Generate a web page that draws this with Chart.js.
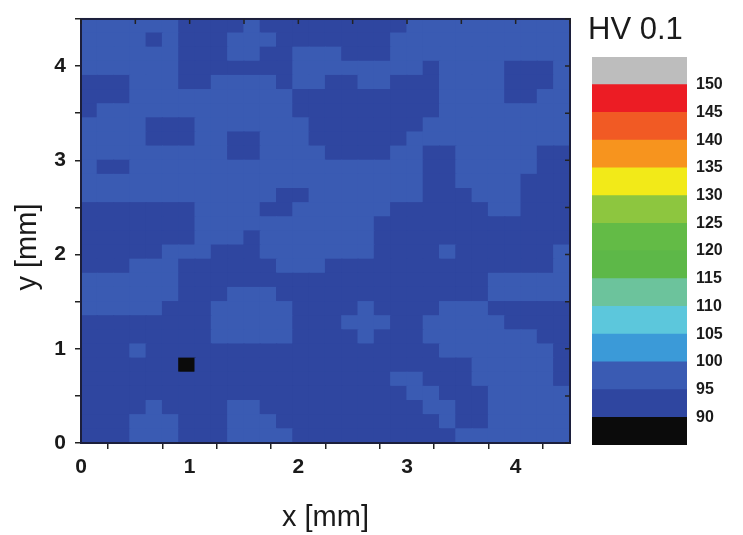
<!DOCTYPE html>
<html>
<head>
<meta charset="utf-8">
<script src="https://cdn.jsdelivr.net/npm/chart.js@4.4.0/dist/chart.umd.min.js"></script>
<style>
  html, body { margin: 0; padding: 0; background: #fff; }
  #wrap { position: relative; width: 743px; height: 535px; overflow: hidden; }
  #map { position: absolute; left: 0; top: 0; }
  #bar { position: absolute; left: 560px; top: 0; }
  #hvTitle { position: absolute; left: 588px; top: 13px; font: 31px/31px "Liberation Sans", Arial, sans-serif; color: #1a1a1a; white-space: nowrap; }
</style>
</head>
<body>
<div id="wrap">
  <canvas id="map" width="743" height="535"></canvas>
  <canvas id="bar" width="183" height="535"></canvas>
  <div id="hvTitle">HV 0.1</div>
</div>
<script>
// hardness map, one string per row of 0.15 mm cells, top row first (y = 4.5 mm)
// 0 = below 90 HV, 1 = 90-95 HV, 2 = 95-100 HV
const hvBands = [
  '222222111121111111112222222222',
  '222212111222111111122222222222',
  '222222111221122211122222222222',
  '222222111111122222222122221112',
  '111222112222122112211122221112',
  '111222222222211111111122221122',
  '122222222222211111111122222222',
  '222211122222221111111222222222',
  '222211122112221111112222222222',
  '222222222112222111122112222211',
  '211222222222222222222112222211',
  '222222222222222222222112222111',
  '222222222222112222222111222111',
  '111111122221122222211111122111',
  '111111122222222222111111111111',
  '111111122212222222111111111111',
  '111112221112222222111121111112',
  '111222111111222111111111111112',
  '222222111111111111111111122222',
  '222222111222111111111111122222',
  '222221112222211112111122211111',
  '111111112222211122211222221111',
  '111111112222211112111222222211',
  '111211111111111111111122222221',
  '111111011111111111111111222221',
  '111111111111111111122111222221',
  '111111111111111111112211122222',
  '111121111221111111111221122222',
  '111222111222111111111121122222',
  '111222111222211111111112222222'
];
const bandHV = { '0': 88, '1': 93, '2': 97 };

// colour scale (HV 0.1)
const hvLevels = [85, 90, 95, 100, 105, 110, 115, 120, 125, 130, 135, 140, 145, 150, 155];
const levelColors = ['#0b0b0b', '#2f46a0', '#3a5bb3', '#3b9ad8', '#5cc7dc', '#6cc39c', '#5db848',
  '#63bb46', '#8dc63f', '#f2ea18', '#f7941e', '#f15a24', '#ec1c24', '#bdbdbd'];
const scaleTicks = [90, 95, 100, 105, 110, 115, 120, 125, 130, 135, 140, 145, 150];

const mapMax = 4.5; // mm
const cellMM = 0.15;

const fontFamily = '"Liberation Sans", Arial, sans-serif';
const axisColor = '#1c1f3c';

function colorFor(hv) {
  for (let k = 0; k < levelColors.length; k++) {
    if (hv >= hvLevels[k] && hv < hvLevels[k + 1]) return levelColors[k];
  }
  return levelColors[levelColors.length - 1];
}

// build the cells as floating bars
const cells = [];
const cellColors = [];
hvBands.forEach((row, j) => {
  const yTop = mapMax - j * cellMM;
  [...row].forEach((code, i) => {
    cells.push({ x: (i + 0.5) * cellMM, y: [yTop - cellMM, yTop] });
    cellColors.push(colorFor(bandHV[code]));
  });
});

// frame, inner ticks on top/right and the axis titles
const framePlugin = {
  id: 'frame',
  afterDraw(chart) {
    const ctx = chart.ctx;
    const a = chart.chartArea;
    const xs = chart.scales.x, ys = chart.scales.y;
    ctx.save();
    ctx.strokeStyle = axisColor;
    ctx.lineWidth = 2;
    ctx.strokeRect(a.left, a.top, a.right - a.left, a.bottom - a.top);
    ctx.lineWidth = 1.5;
    ctx.strokeStyle = '#222';
    ctx.beginPath();
    xs.ticks.forEach(t => {
      const px = xs.getPixelForValue(t.value);
      ctx.moveTo(px, a.top);
      ctx.lineTo(px, a.top + 5);
    });
    ys.ticks.forEach(t => {
      const py = ys.getPixelForValue(t.value);
      ctx.moveTo(a.right, py);
      ctx.lineTo(a.right - 5, py);
    });
    ctx.stroke();

    ctx.fillStyle = '#1a1a1a';
    ctx.font = '29px ' + fontFamily;
    ctx.textAlign = 'center';
    ctx.textBaseline = 'middle';
    ctx.fillText('x [mm]', (a.left + a.right) / 2, 518);
    ctx.translate(28, 247);
    ctx.rotate(-Math.PI / 2);
    ctx.fillText('y [mm]', 0, 0);
    ctx.restore();
  }
};

const tickFont = { family: fontFamily, size: 21, weight: 'bold', lineHeight: 0.95 };

new Chart(document.getElementById('map'), {
  type: 'bar',
  data: {
    datasets: [{
      data: cells,
      backgroundColor: cellColors,
      borderWidth: 0,
      inflateAmount: 0.6,
      categoryPercentage: 1,
      barPercentage: 1
    }]
  },
  options: {
    responsive: false,
    animation: false,
    events: [],
    layout: { padding: { top: 10, right: 173, left: 0, bottom: 0 } },
    plugins: { legend: { display: false }, tooltip: { enabled: false } },
    scales: {
      x: {
        type: 'linear', min: 0, max: mapMax, offset: false,
        grid: { drawOnChartArea: false, tickLength: 6, color: '#222', lineWidth: 1.5 },
        border: { color: axisColor, width: 2 },
        ticks: {
          stepSize: 0.5, autoSkip: false, maxRotation: 0, padding: 8,
          font: tickFont, color: '#1a1a1a',
          callback: v => Number.isInteger(v) ? v : ''
        },
        afterFit: s => { s.height = 92; }
      },
      y: {
        type: 'linear', min: 0, max: mapMax,
        grid: { drawOnChartArea: false, tickLength: 6, color: '#222', lineWidth: 1.5 },
        border: { color: axisColor, width: 2 },
        ticks: {
          stepSize: 0.5, autoSkip: false, padding: 9,
          font: tickFont, color: '#1a1a1a',
          callback: v => Number.isInteger(v) ? v : ''
        },
        afterFit: s => { s.width = 81; }
      }
    }
  },
  plugins: [framePlugin]
});

// colour bar
new Chart(document.getElementById('bar'), {
  type: 'bar',
  data: {
    labels: ['HV'],
    datasets: levelColors.map((c, k) => ({
      data: [[hvLevels[k], hvLevels[k + 1]]],
      backgroundColor: c,
      borderWidth: 0,
      grouped: false,
      inflateAmount: 0.4,
      categoryPercentage: 1,
      barPercentage: 1
    }))
  },
  options: {
    responsive: false,
    animation: false,
    events: [],
    layout: { padding: { left: 32, top: 57, right: 0, bottom: 90 } },
    plugins: { legend: { display: false }, tooltip: { enabled: false } },
    scales: {
      x: { display: false },
      y: {
        position: 'right',
        min: hvLevels[0], max: hvLevels[hvLevels.length - 1],
        grid: { display: false, drawTicks: false },
        border: { display: false },
        ticks: {
          stepSize: 5, autoSkip: false, padding: 9,
          font: { family: fontFamily, size: 16, weight: 'bold' }, color: '#1a1a1a',
          callback: v => scaleTicks.includes(v) ? v : ''
        },
        afterFit: s => { s.width = 56; }
      }
    }
  }
});
</script>
</body>
</html>
